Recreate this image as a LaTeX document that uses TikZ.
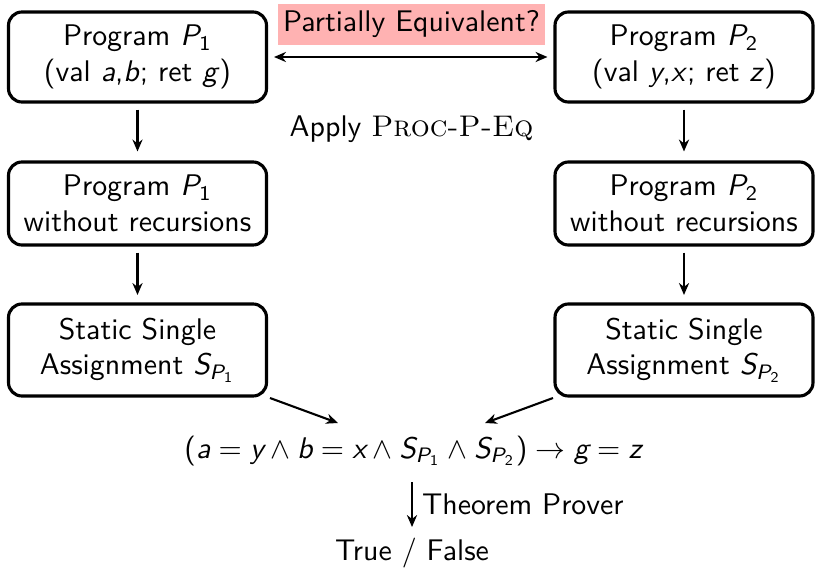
\documentclass[tikz,border=0pt]{standalone}
\usepackage{amsmath}
\usetikzlibrary{arrows.meta}
\newcommand\vi[1]{\textit{#1}}
\newlength\pxu
\setlength\pxu{0.335pt}
\tikzset{
  box/.style={draw, line width=1.05pt, rounded corners=4.5pt, minimum width=258\pxu, align=center, inner sep=0pt},
  tip/.tip={Stealth[length=4pt, width=3.4pt, inset=1.3pt]},
  arr/.style={line width=0.7pt, -tip},
  darr/.style={line width=0.7pt, tip-tip},
  lbl/.style={inner sep=0pt, align=center}
}
\begin{document}
\begin{tikzpicture}[x=0.335pt, y=-0.335pt, font=\sffamily]
\useasboundingbox (0,0) rectangle (815,570);
% top row
\node[box, minimum height=90\pxu] (p1) at (137.5,57) {Program $\vi{P}_{\text{1}}$\\(val \vi{a},\vi{b}; ret \vi{g})};
\node[box, minimum height=90\pxu] (p2) at (684,57) {Program $\vi{P}_{\text{2}}$\\(val \vi{y},\vi{x}; ret \vi{z})};
\node[fill=red!30, minimum width=267\pxu, minimum height=41\pxu, inner sep=0pt] (pe) at (411.5,24.5) {Partially Equivalent?};
\draw[darr, shorten <=2pt, shorten >=2pt] (p1.east) -- (p2.west);
\node[lbl] (apply) at (411.5,129) {Apply {\rmfamily\textsc{Proc-P-Eq}}};
% middle row
\node[box, minimum height=83\pxu] (m1) at (137.5,203.5) {Program $\vi{P}_{\text{1}}$\\without recursions};
\node[box, minimum height=83\pxu] (m2) at (684,203.5) {Program $\vi{P}_{\text{2}}$\\without recursions};
% ssa row
\node[box, minimum height=92\pxu] (s1) at (137.5,350) {Static Single\\Assignment $\vi{S}_{\vi{P}_{\text{1}}}$};
\node[box, minimum height=92\pxu] (s2) at (684,350) {Static Single\\Assignment $\vi{S}_{\vi{P}_{\text{2}}}$};
\draw[arr, shorten <=2pt, shorten >=3pt] (p1.south) -- (m1.north);
\draw[arr, shorten <=2pt, shorten >=3pt] (p2.south) -- (m2.north);
\draw[arr, shorten <=2pt, shorten >=2.5pt] (m1.south) -- (s1.north);
\draw[arr, shorten <=2pt, shorten >=2.5pt] (m2.south) -- (s2.north);
% formula
\node[lbl, anchor=base] (f) at (413,458) {$\text{(}\vi{a} = \vi{y} \wedge \vi{b} = \vi{x} \wedge \vi{S}_{\vi{P}_{\text{1}}} \wedge \vi{S}_{\vi{P}_{\text{2}}}\text{)} \rightarrow \vi{g} = \vi{z}$};
\coordinate (fl) at (338,423);
\coordinate (fr) at (485,423);
\coordinate (s1e) at (270,398);
\coordinate (s2e) at (553,398);
\draw[arr] (s1e) -- (fl);
\draw[arr] (s2e) -- (fr);
% prover
\node[lbl] (tf) at (412,553) {True / False};
\coordinate (ta) at (412,482);
\coordinate (tb) at (412,527);
\draw[arr] (ta) -- (tb) node[midway, right, inner sep=3pt] (tp) {Theorem Prover};
\end{tikzpicture}
\end{document}
